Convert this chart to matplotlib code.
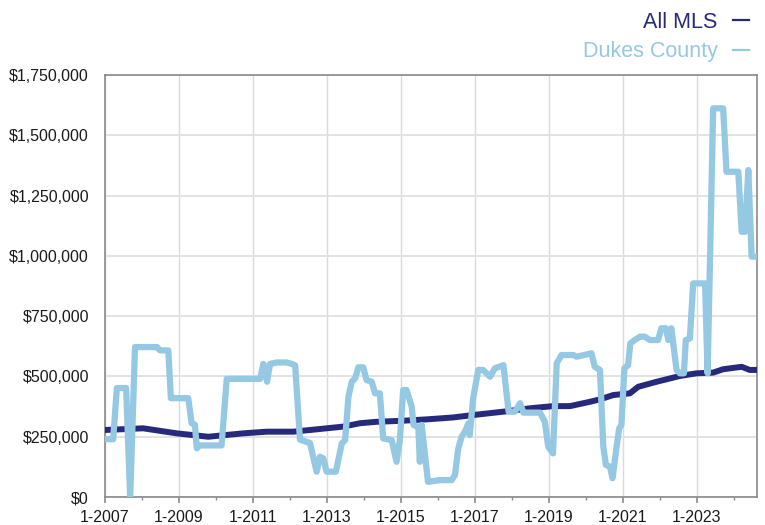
import matplotlib.pyplot as plt
from matplotlib.lines import Line2D
from matplotlib.ticker import FuncFormatter

plt.rcParams['font.family'] = ['Liberation Sans', 'DejaVu Sans']

# decimal year / value (dollars, thousands)
mls_t = [2007.00, 2008.03, 2008.94, 2009.79, 2010.73, 2011.37, 2012.09, 2012.99,
         2013.44, 2013.89, 2014.34, 2015.00, 2015.69, 2016.41, 2016.95, 2017.77,
         2018.49, 2019.11, 2019.57, 2020.11, 2020.38, 2020.74, 2021.19, 2021.41,
         2021.91, 2022.54, 2022.99, 2023.44, 2023.71, 2024.21, 2024.43, 2024.62]
mls_v = [278, 285, 264, 250, 264, 271, 271, 285,
         292, 306, 312, 316, 322, 330, 340, 354,
         368, 377, 377, 395, 405, 423, 430, 457,
         478, 502, 513, 516, 530, 540, 527, 527]

dukes_t = [2007.00, 2007.22, 2007.32, 2007.57, 2007.68, 2007.81, 2008.40, 2008.49,
           2008.71, 2008.78, 2009.25, 2009.34, 2009.43, 2009.48, 2009.56, 2010.15,
           2010.29, 2011.19, 2011.28, 2011.38, 2011.46, 2011.64, 2011.91, 2012.05,
           2012.14, 2012.27, 2012.54, 2012.72, 2012.81, 2012.90, 2012.99, 2013.24,
           2013.40, 2013.49, 2013.58, 2013.67, 2013.76, 2013.85, 2013.98, 2014.07,
           2014.21, 2014.30, 2014.43, 2014.52, 2014.75, 2014.88, 2014.97, 2015.06,
           2015.15, 2015.29, 2015.34, 2015.47, 2015.51, 2015.56, 2015.73, 2016.05,
           2016.37, 2016.46, 2016.55, 2016.64, 2016.73, 2016.82, 2016.86, 2016.95,
           2017.09, 2017.22, 2017.41, 2017.54, 2017.77, 2017.91, 2018.08, 2018.22,
           2018.31, 2018.76, 2018.89, 2018.98, 2019.11, 2019.21, 2019.34, 2019.66,
           2019.75, 2020.15, 2020.24, 2020.38, 2020.47, 2020.54, 2020.65, 2020.72,
           2020.83, 2020.90, 2020.96, 2021.04, 2021.14, 2021.20, 2021.32, 2021.46,
           2021.59, 2021.73, 2021.95, 2022.04, 2022.16, 2022.23, 2022.31, 2022.45,
           2022.54, 2022.65, 2022.70, 2022.81, 2022.90, 2023.22, 2023.29, 2023.44,
           2023.71, 2023.80, 2024.12, 2024.21, 2024.30, 2024.39, 2024.48, 2024.62]
dukes_v = [240, 240, 452, 452, 0, 622, 622, 608,
           608, 410, 410, 306, 300, 202, 214, 214,
           490, 490, 552, 478, 552, 558, 558, 552,
           546, 238, 224, 105, 167, 160, 105, 105,
           222, 236, 416, 478, 492, 538, 538, 485,
           478, 430, 430, 243, 236, 146, 236, 444,
           444, 375, 299, 290, 146, 299, 63, 70,
           70, 91, 202, 250, 271, 305, 257, 409,
           527, 527, 499, 534, 547, 354, 354, 389,
           350, 350, 312, 209, 181, 554, 589, 589,
           582, 596, 540, 527, 209, 133, 126, 78,
           209, 285, 299, 534, 547, 637, 651, 665,
           665, 651, 651, 700, 700, 651, 700, 527,
           513, 513, 651, 658, 886, 886, 513, 1612,
           1612, 1349, 1349, 1100, 1100, 1356, 997, 997]

navy = '#272a7c'
light = '#95c8e3'

fig = plt.figure(figsize=(7.65, 5.25), dpi=100)
ax = fig.add_axes([0.1373, 0.0533, 0.852, 0.8037])

ax.plot(mls_t, [v * 1000 for v in mls_v], color=navy, lw=4.3, solid_joinstyle='round', zorder=3)
ax.plot(dukes_t, [v * 1000 for v in dukes_v], color=light, lw=4.5, solid_joinstyle='round', zorder=4)

ax.set_xlim(2007, 2024.62)
ax.set_ylim(0, 1750000)
ax.set_yticks(range(0, 1750001, 250000))
ax.yaxis.set_major_formatter(FuncFormatter(lambda v, p: '${:,.0f}'.format(v)))
ax.set_xticks(range(2007, 2024, 2))
ax.set_xticklabels(['1-%d' % y for y in range(2007, 2024, 2)])
ax.set_xticks(range(2008, 2025, 2), minor=True)

ax.grid(axis='x', color='#dadada', lw=1.0)
ax.grid(axis='y', color='#e2e2e2', lw=1.4)
ax.set_axisbelow(True)
for s in ax.spines.values():
    s.set_color('#8a8a8a')
    s.set_linewidth(1.2)

ax.tick_params(axis='y', length=0, pad=11.5, labelsize=11.5, labelcolor='#1a1a1a')
ax.tick_params(axis='x', which='major', length=4, width=1.2, color='#8a8a8a',
               pad=5, labelsize=11.5, labelcolor='#1a1a1a')
ax.tick_params(axis='x', which='minor', length=2.5, width=1.0, color='#8a8a8a')

handles = [Line2D([], [], color=navy, lw=1.6), Line2D([], [], color=light, lw=1.6)]
leg = fig.legend(handles, ['All MLS', 'Dukes County'], loc='upper right',
                 bbox_to_anchor=(749 / 765, 1 - 12 / 525), frameon=False,
                 markerfirst=False, labelcolor='linecolor', fontsize=15.5,
                 handlelength=0.75, handletextpad=0.7, labelspacing=0.39,
                 borderpad=0, borderaxespad=0)

fig.savefig('out.png', dpi=100)
